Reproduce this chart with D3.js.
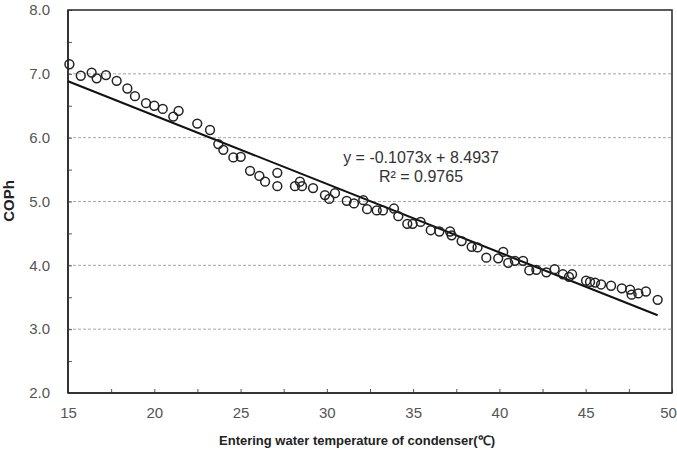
<!DOCTYPE html>
<html>
<head>
<meta charset="utf-8">
<script src="https://cdn.jsdelivr.net/npm/d3@7"></script>
<style>
  html, body { margin: 0; padding: 0; background: #fff; }
  svg { display: block; font-family: "Liberation Sans", Arial, sans-serif; }
</style>
</head>
<body>
<svg id="chart" width="677" height="450"></svg>
<script>
// ---- data ----
const temperature = [15.08, 15.74, 16.37, 16.66, 17.20, 17.82, 18.44, 18.88, 19.52, 20.00,
  20.49, 21.10, 21.41, 22.49, 23.23, 23.71, 24.00, 24.58, 25.01, 25.55,
  26.09, 26.42, 27.13, 27.13, 28.15, 28.44, 28.56, 29.20, 29.89, 30.14,
  30.47, 31.15, 31.57, 32.11, 32.33, 32.89, 33.25, 33.89, 34.14, 34.66,
  34.97, 35.43, 36.02, 36.52, 37.14, 37.23, 37.81, 38.39, 38.73, 39.24,
  39.93, 40.22, 40.51, 40.90, 41.37, 41.73, 42.14, 42.72, 43.20, 43.68,
  44.03, 44.21, 45.02, 45.25, 45.54, 45.89, 46.47, 47.09, 47.57, 47.66,
  48.05, 48.49, 49.17];
const cop = [7.15, 6.97, 7.02, 6.93, 6.98, 6.89, 6.77, 6.65, 6.54, 6.50,
  6.45, 6.33, 6.42, 6.22, 6.12, 5.90, 5.81, 5.69, 5.70, 5.48,
  5.40, 5.31, 5.45, 5.24, 5.24, 5.31, 5.24, 5.21, 5.10, 5.04,
  5.13, 5.01, 4.97, 5.02, 4.88, 4.86, 4.86, 4.89, 4.77, 4.65,
  4.65, 4.68, 4.55, 4.53, 4.53, 4.47, 4.38, 4.29, 4.28, 4.12,
  4.11, 4.21, 4.04, 4.07, 4.07, 3.92, 3.93, 3.89, 3.94, 3.86,
  3.82, 3.86, 3.76, 3.74, 3.73, 3.70, 3.68, 3.64, 3.62, 3.54,
  3.56, 3.59, 3.46];
const trendSlope = -0.1073;
const trendIntercept = 8.4937;
const equationLines = ["y = -0.1073x + 8.4937", "R² = 0.9765"];
const xTickValues = [15, 20, 25, 30, 35, 40, 45, 50];
const yTickValues = [2, 3, 4, 5, 6, 7, 8];
const xMinorTicks = [15, 17.5, 20, 22.5, 25, 27.5, 30, 32.5, 35, 37.5, 40, 42.5, 45, 47.5, 50];
const yMinorTicks = [2, 2.5, 3, 3.5, 4, 4.5, 5, 5.5, 6, 6.5, 7, 7.5, 8];
const xTitle = "Entering water temperature of condenser(℃)";
const yTitle = "COPh";

// ---- layout ----
const W = 677, H = 450;
const m = { left: 68, right: 5, top: 10, bottom: 57 };
const pw = W - m.left - m.right, ph = H - m.top - m.bottom;

const svg = d3.select("#chart");
const g = svg.append("g").attr("transform", `translate(${m.left},${m.top})`);

const x = d3.scaleLinear().domain([15, 50]).range([0, pw]);
const y = d3.scaleLinear().domain([2, 8]).range([ph, 0]);

// gridlines
g.append("g")
  .selectAll("line")
  .data(yTickValues.filter(v => v > 2 && v < 8))
  .join("line")
  .attr("x1", 0).attr("x2", pw)
  .attr("y1", d => y(d)).attr("y2", d => y(d))
  .attr("stroke", "#a8a8a8").attr("stroke-width", 1)
  .attr("stroke-dasharray", "3,2");

// minor inside ticks
const xMinor = g.append("g").attr("transform", `translate(0,${ph})`)
  .call(d3.axisBottom(x).tickValues(xMinorTicks).tickSize(-4).tickFormat(""));
xMinor.select(".domain").remove();
xMinor.selectAll("line").attr("stroke", "#555");

const yMinor = g.append("g")
  .call(d3.axisLeft(y).tickValues(yMinorTicks).tickSize(-4).tickFormat(""));
yMinor.select(".domain").remove();
yMinor.selectAll("line").attr("stroke", "#555");

// tick labels
const xAxis = g.append("g").attr("transform", `translate(0,${ph})`)
  .call(d3.axisBottom(x).tickValues(xTickValues).tickSize(0).tickPadding(14).tickFormat(d3.format("d")));
xAxis.select(".domain").remove();
xAxis.selectAll("text").attr("font-size", 15).attr("fill", "#555")
  .attr("font-family", "Liberation Sans, Arial, sans-serif");
// keep the last label inside the page (it sits at the right edge)
xAxis.selectAll(".tick").filter(d => d === 50).select("text").attr("dx", -4);

const yAxis = g.append("g")
  .call(d3.axisLeft(y).tickValues(yTickValues).tickSize(0).tickPadding(18).tickFormat(d3.format(".1f")));
yAxis.select(".domain").remove();
yAxis.selectAll("text").attr("font-size", 15).attr("fill", "#555")
  .attr("font-family", "Liberation Sans, Arial, sans-serif");

// frame
g.append("rect")
  .attr("x", 0).attr("y", 0).attr("width", pw).attr("height", ph)
  .attr("fill", "none").attr("stroke", "#333").attr("stroke-width", 1.6);
g.append("line").attr("x1", 0).attr("x2", 0).attr("y1", 0).attr("y2", ph)
  .attr("stroke", "#333").attr("stroke-width", 2);
g.append("line").attr("x1", 0).attr("x2", pw).attr("y1", ph).attr("y2", ph)
  .attr("stroke", "#333").attr("stroke-width", 2);

// trend line
const xMax = d3.max(temperature);
const trendPts = [15, xMax].map(t => [t, trendSlope * t + trendIntercept]);
g.append("path")
  .datum(trendPts)
  .attr("d", d3.line().x(d => x(d[0])).y(d => y(d[1])))
  .attr("fill", "none").attr("stroke", "#111").attr("stroke-width", 2);

// points
g.append("g")
  .selectAll("circle")
  .data(temperature.map((t, i) => [t, cop[i]]))
  .join("circle")
  .attr("cx", d => x(d[0])).attr("cy", d => y(d[1]))
  .attr("r", 4.4)
  .attr("fill", "none").attr("stroke", "#222").attr("stroke-width", 1.5);

// equation annotation
const eqX = 421 - m.left, eqY = 163 - m.top;
const eq = g.append("text")
  .attr("x", eqX).attr("y", eqY)
  .attr("text-anchor", "middle")
  .attr("font-size", 16).attr("fill", "#333");
equationLines.forEach((s, i) => {
  eq.append("tspan").attr("x", eqX).attr("dy", i === 0 ? 0 : 19).text(s);
});

// axis titles
svg.append("text")
  .attr("x", 357).attr("y", 445)
  .attr("text-anchor", "middle")
  .attr("font-size", 13).attr("font-weight", "bold").attr("fill", "#222")
  .text(xTitle);

svg.append("text")
  .attr("transform", `translate(14,201) rotate(-90)`)
  .attr("text-anchor", "middle")
  .attr("font-size", 15).attr("font-weight", "bold").attr("fill", "#222")
  .text(yTitle);
</script>
</body>
</html>
